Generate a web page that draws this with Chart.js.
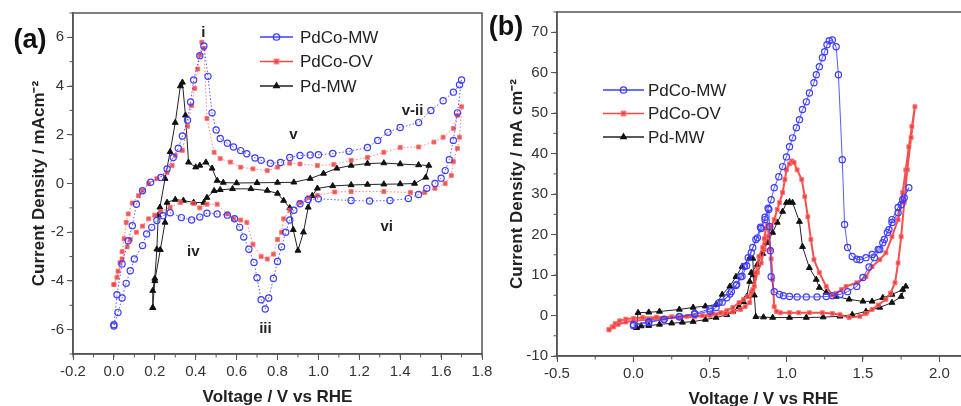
<!DOCTYPE html>
<html><head><meta charset="utf-8">
<script src="https://cdn.jsdelivr.net/npm/chart.js@4.4.0/dist/chart.umd.min.js"></script>
<style>
html,body{margin:0;padding:0;background:#fff;overflow:hidden;width:961px;height:406px;}
#ca{position:absolute;left:0;top:0;}
#cb{position:absolute;left:484px;top:0;}
</style></head><body>
<canvas id="ca" width="498" height="406"></canvas>
<canvas id="cb" width="500" height="406"></canvas>
<script>
// ---------- DATA (a): [voltage V vs RHE, current density mA cm^-2] ----------
const seriesNames = ['PdCo-MW', 'PdCo-OV', 'Pd-MW'];
const aPdCoMW = [[0.0,-5.8],[0.015,-4.57],[0.04,-3.3],[0.07,-2.35],[0.09,-1.73],[0.11,-0.85],[0.14,-0.3],[0.18,0.05],[0.23,0.25],[0.26,0.6],[0.29,1.07],[0.315,1.45],[0.335,1.95],[0.36,2.6],[0.375,3.35],[0.39,4.25],[0.42,5.25],[0.44,5.65],[0.46,4.4],[0.48,2.9],[0.50,2.2],[0.52,1.85],[0.555,1.65],[0.585,1.5],[0.62,1.35],[0.65,1.22],[0.69,1.05],[0.72,0.95],[0.765,0.83],[0.815,0.86],[0.86,1.07],[0.91,1.15],[0.96,1.17],[1.0,1.18],[1.07,1.23],[1.15,1.32],[1.24,1.48],[1.29,1.77],[1.34,2.1],[1.40,2.3],[1.49,2.5],[1.55,3.0],[1.61,3.4],[1.66,3.75],[1.69,4.05],[1.70,4.25],
 [1.68,2.9],[1.66,1.77],[1.64,0.98],[1.62,0.53],[1.60,0.22],[1.57,0.0],[1.53,-0.2],[1.49,-0.45],[1.44,-0.62],[1.35,-0.7],[1.25,-0.72],[1.16,-0.7],[1.0,-0.63],[0.95,-0.66],[0.91,-0.83],[0.88,-1.1],[0.86,-1.5],[0.84,-2.0],[0.82,-2.6],[0.80,-3.2],[0.78,-3.9],[0.757,-4.7],[0.74,-5.15],[0.72,-4.77],[0.70,-3.87],[0.685,-3.24],[0.66,-2.7],[0.635,-2.2],[0.615,-1.8],[0.59,-1.45],[0.555,-1.3],[0.505,-1.25],[0.455,-1.22],[0.42,-1.38],[0.38,-1.5],[0.33,-1.4],[0.275,-1.2],[0.24,-1.32],[0.21,-1.52],[0.185,-1.8],[0.16,-2.07],[0.14,-2.55],[0.10,-3.1],[0.08,-3.58],[0.06,-4.1],[0.04,-4.7],[0.02,-5.3],[0.0,-5.85]];
const aPdCoOV = [[0.0,-4.15],[0.02,-3.6],[0.03,-3.25],[0.04,-2.8],[0.05,-2.27],[0.06,-1.6],[0.07,-1.25],[0.09,-0.8],[0.12,-0.5],[0.14,-0.3],[0.17,0.0],[0.21,0.2],[0.26,0.45],[0.285,0.74],[0.30,1.15],[0.335,1.36],[0.36,2.35],[0.38,3.2],[0.395,3.9],[0.41,4.7],[0.42,5.27],[0.43,5.8],[0.44,5.55],[0.455,2.67],[0.49,1.28],[0.52,1.02],[0.57,0.88],[0.62,0.67],[0.68,0.6],[0.75,0.53],[0.80,0.67],[0.86,0.83],[0.91,0.8],[0.995,0.74],[1.075,0.78],[1.16,0.95],[1.24,1.07],[1.32,1.28],[1.40,1.48],[1.49,1.5],[1.565,1.7],[1.61,1.9],[1.66,2.26],[1.68,2.8],[1.70,3.15],
 [1.69,1.9],[1.68,1.44],[1.66,0.9],[1.65,0.33],[1.62,0.0],[1.57,-0.2],[1.52,-0.37],[1.45,-0.37],[1.32,-0.33],[1.16,-0.33],[1.08,-0.35],[0.995,-0.49],[0.95,-0.58],[0.91,-0.78],[0.86,-1.1],[0.83,-1.45],[0.82,-2.0],[0.80,-2.3],[0.78,-2.9],[0.75,-3.1],[0.72,-3.0],[0.68,-2.5],[0.65,-1.6],[0.62,-1.5],[0.585,-1.45],[0.555,-1.25],[0.505,-0.85],[0.455,-0.85],[0.42,-1.0],[0.39,-0.82],[0.325,-0.78],[0.275,-0.98],[0.23,-1.15],[0.20,-1.3],[0.17,-1.45],[0.14,-1.75],[0.11,-2.0],[0.08,-2.3],[0.065,-2.6],[0.04,-3.1],[0.015,-3.85],[0.0,-4.15]];
const aPdMW = [[0.19,-5.1],[0.19,-4.4],[0.20,-3.9],[0.21,-2.7],[0.217,-1.3],[0.225,-0.98],[0.25,0.2],[0.275,1.3],[0.30,2.5],[0.325,4.0],[0.335,4.15],[0.35,2.8],[0.365,0.87],[0.40,0.67],[0.42,0.74],[0.45,0.87],[0.48,0.62],[0.505,0.12],[0.535,0.04],[0.60,0.02],[0.70,0.03],[0.80,0.04],[0.88,0.05],[0.96,0.2],[1.025,0.41],[1.09,0.62],[1.16,0.74],[1.24,0.82],[1.32,0.84],[1.40,0.8],[1.49,0.76],[1.54,0.74],
 [1.525,0.25],[1.47,0.0],[1.40,-0.02],[1.32,-0.03],[1.24,-0.04],[1.16,-0.06],[1.07,-0.1],[0.995,-0.2],[0.97,-0.5],[0.95,-0.98],[0.927,-2.0],[0.90,-2.75],[0.877,-1.9],[0.86,-1.0],[0.83,-0.7],[0.80,-0.41],[0.75,-0.29],[0.67,-0.22],[0.58,-0.22],[0.52,-0.26],[0.49,-0.3],[0.455,-0.58],[0.44,-0.78],[0.39,-0.78],[0.34,-0.7],[0.30,-0.66],[0.26,-0.78],[0.25,-1.6],[0.227,-2.72],[0.20,-4.0],[0.19,-5.1]];

// ---------- DATA (b) ----------
const bPdCoMW = [[0,-2.2],[0.1,-1.5],[0.2,-0.9],[0.3,-0.3],[0.4,0.3],[0.5,1.1],[0.54,2.0],[0.58,3.3],[0.63,5.3],[0.67,7.4],[0.71,9.7],[0.74,12.3],[0.77,15.5],[0.80,18.8],[0.83,21.8],[0.86,24.3],[0.88,26.5],[0.90,28.6],[0.92,31.6],[0.95,34.3],[0.975,36.8],[1.0,39.2],[1.02,41.7],[1.04,43.9],[1.065,46.4],[1.085,48.4],[1.105,50.9],[1.13,52.8],[1.15,55],[1.18,57.5],[1.195,59.5],[1.215,61.5],[1.235,63.7],[1.25,65.2],[1.265,66.9],[1.28,67.9],[1.30,68.1],[1.325,66.4],[1.34,59.5],[1.365,38.5],[1.38,22.5],[1.40,16.8],[1.43,14.6],[1.46,13.9],[1.48,13.8],[1.52,14.3],[1.56,15.1],[1.60,16.3],[1.63,18],[1.66,20.5],[1.69,23],[1.73,25.4],[1.75,27.4],[1.77,29.1],[1.80,31.6],
 [1.76,28.6],[1.73,26.7],[1.69,23.7],[1.67,21.2],[1.64,18.8],[1.61,16.3],[1.575,14.3],[1.54,12.0],[1.50,9.4],[1.46,7.2],[1.40,5.9],[1.35,5.2],[1.30,4.9],[1.26,4.7],[1.20,4.6],[1.13,4.6],[1.07,4.6],[1.02,4.7],[0.98,4.9],[0.955,5.2],[0.92,5.9],[0.90,9.6],[0.895,16],[0.89,22],[0.885,26.2],[0.86,23.7],[0.835,21.5],[0.81,19.2],[0.78,16.8],[0.75,14.3],[0.725,12.1],[0.70,9.6],[0.675,7.7],[0.64,5.9],[0.61,4.4],[0.56,3.2],[0.5,1.6],[0.4,0.5],[0.3,-0.3],[0.2,-1.0],[0.1,-1.7],[0.0,-2.5]];
const bPdCoOV = [[-0.16,-3.5],[-0.14,-2.8],[-0.12,-2.0],[-0.09,-1.3],[-0.05,-0.9],[0.0,-0.7],[0.06,-0.5],[0.15,-0.4],[0.25,-0.3],[0.35,-0.2],[0.45,0.0],[0.52,0.4],[0.57,0.7],[0.61,1.2],[0.65,2.0],[0.69,3.2],[0.72,4.0],[0.745,4.7],[0.77,5.8],[0.79,7.2],[0.81,10.6],[0.835,13],[0.855,16.3],[0.875,19.5],[0.90,22],[0.92,23.7],[0.94,26.2],[0.955,27.9],[0.975,30.4],[0.99,33.6],[1.0,36],[1.02,37.5],[1.035,38.2],[1.05,37.8],[1.07,36],[1.10,33.6],[1.12,29.4],[1.14,24.4],[1.16,18.8],[1.18,13.8],[1.215,10.6],[1.26,7.2],[1.30,5.0],[1.325,5.5],[1.36,6.4],[1.39,7.2],[1.46,8.1],[1.52,9.6],[1.56,12.1],[1.61,13.8],[1.65,15.5],[1.69,19.5],[1.73,23.7],[1.76,30.4],[1.78,36],[1.80,41.7],[1.82,46.7],[1.84,51.6],
 [1.815,44],[1.79,36],[1.77,27.9],[1.75,19.5],[1.73,13],[1.71,8.1],[1.68,5.5],[1.65,4.0],[1.60,2.6],[1.56,1.5],[1.52,0.5],[1.48,-0.2],[1.41,-0.5],[1.35,0.2],[1.30,0.5],[1.235,0.7],[1.15,0.7],[1.08,0.7],[1.02,0.7],[0.96,0.7],[0.935,1.0],[0.92,2.2],[0.91,8.9],[0.90,14],[0.895,16.3],[0.885,19.5],[0.875,22.4],[0.865,21.5],[0.855,19],[0.845,16.8],[0.82,14.6],[0.80,10.6],[0.78,6.4],[0.76,3.2],[0.73,2.2],[0.70,1.5],[0.65,0.9],[0.60,0.5],[0.50,0.0],[0.40,-0.3],[0.30,-0.5],[0.20,-0.7],[0.10,-1.0],[0.0,-1.3],[-0.05,-1.6],[-0.10,-2.2],[-0.13,-2.8],[-0.16,-3.5]];
const bPdMW = [[0.02,-3.0],[0.05,-2.6],[0.10,-2.5],[0.17,-2.2],[0.25,-1.9],[0.32,-1.7],[0.39,-1.5],[0.47,-1.0],[0.54,-0.5],[0.61,0.2],[0.65,1.0],[0.69,2.2],[0.72,3.4],[0.74,4.7],[0.76,8.4],[0.77,10.6],[0.81,12.6],[0.845,15.3],[0.875,18],[0.91,20.5],[0.94,23],[0.975,25.7],[1.0,27.9],[1.02,28.1],[1.04,27.9],[1.085,23.2],[1.105,17],[1.15,11.8],[1.195,8.9],[1.215,6.9],[1.26,5.7],[1.325,4.7],[1.41,4.0],[1.50,3.5],[1.56,3.5],[1.63,4.4],[1.69,5.2],[1.76,6.4],[1.78,7.2],
 [1.75,4.7],[1.69,3.2],[1.61,2.0],[1.52,1.0],[1.43,0.2],[1.35,-0.2],[1.24,-0.4],[1.13,-0.5],[1.02,-0.5],[0.91,-0.5],[0.85,-0.4],[0.80,-0.3],[0.79,5],[0.785,10],[0.78,14.1],[0.76,14.3],[0.71,12.1],[0.67,9.6],[0.63,7.2],[0.58,5.2],[0.54,2.7],[0.47,2.3],[0.39,2.0],[0.30,1.5],[0.17,1.0],[0.10,0.8],[0.03,0.7],[0.02,-3.0]];

// ---------- TICKS & LABELS ----------
const aXTicks = [-0.2,0.0,0.2,0.4,0.6,0.8,1.0,1.2,1.4,1.6,1.8];
const aYTicks = [-6,-4,-2,0,2,4,6];
const bXTicks = [-0.5,0.0,0.5,1.0,1.5,2.0];
const bYTicks = [-10,0,10,20,30,40,50,60,70];
const aNotes = [['i',0.437,6.2],['v',0.878,1.98],['v-ii',1.46,3.0],['vi',1.334,-1.8],['iv',0.388,-2.8],['iii',0.741,-5.95]];
const xTitle = 'Voltage / V vs RHE';
const aYTitle = 'Current Density / mAcm\u207B\u00B2';
const bYTitle = 'Current Density / mA cm\u207B\u00B2';

const FONT = "'Liberation Sans', Arial, sans-serif";
const toXY = arr => arr.map(p => ({x: p[0], y: p[1]}));

const decor = {
  id: 'decor',
  afterDraw(chart, args, o) {
    const {ctx, chartArea: a, scales} = chart;
    const xs = scales.x, ys = scales.y;
    ctx.save();
    ctx.strokeStyle = '#555'; ctx.lineWidth = 1.5;
    ctx.strokeRect(a.left, a.top, a.right - a.left, a.bottom - a.top);
    // minor ticks
    ctx.lineWidth = 1;
    for (let v = xs.min; v <= xs.max + 1e-9; v += o.minorX) {
      const px = xs.getPixelForValue(v);
      ctx.beginPath(); ctx.moveTo(px, a.bottom); ctx.lineTo(px, a.bottom + 3.5); ctx.stroke();
    }
    for (let v = ys.min; v <= ys.max + 1e-9; v += o.minorY) {
      const py = ys.getPixelForValue(v);
      ctx.beginPath(); ctx.moveTo(a.left, py); ctx.lineTo(a.left - 3.5, py); ctx.stroke();
    }
    // legend
    const L = o.legend;
    chart.data.datasets.forEach((ds, i) => {
      const y = L.y + i * L.dy;
      ctx.strokeStyle = ds.legendLine; ctx.lineWidth = 1.3; ctx.setLineDash([]);
      ctx.beginPath(); ctx.moveTo(L.x, y); ctx.lineTo(L.x + L.len, y); ctx.stroke();
      ctx.fillStyle = ds.pointBackgroundColor; ctx.strokeStyle = ds.pointBorderColor;
      Chart.helpers.drawPoint(ctx, {pointStyle: ds.pointStyle, radius: L.r, rotation: 0, borderWidth: ds.pointBorderWidth}, L.x + L.len / 2, y);
      ctx.fillStyle = '#222'; ctx.font = L.font; ctx.textBaseline = 'middle'; ctx.textAlign = 'left';
      ctx.fillText(ds.label, L.x + L.len + L.gap, y + 1);
    });
    // notes
    if (o.notes) {
      ctx.fillStyle = '#222'; ctx.font = 'bold 15px ' + FONT; ctx.textAlign = 'center'; ctx.textBaseline = 'middle';
      o.notes.forEach(n => ctx.fillText(n[0], xs.getPixelForValue(n[1]), ys.getPixelForValue(n[2])));
    }
    // panel label
    ctx.fillStyle = '#111'; ctx.font = 'bold 27px ' + FONT; ctx.textAlign = 'center'; ctx.textBaseline = 'middle';
    ctx.fillText(o.panel[0], o.panel[1], o.panel[2]);
    ctx.restore();
  }
};

function styles(kind, panel) {
  if (kind === 0) return {borderColor: 'rgba(60,60,255,0.85)', borderWidth: 1, borderDash: panel === 'a' ? [1.5, 2] : [],
    pointStyle: 'circle', pointRadius: 3.1, pointBorderWidth: 1.2, pointBackgroundColor: 'rgba(255,255,255,0)', pointBorderColor: '#3d3dff', legendLine: '#3d3dff'};
  if (kind === 1) return {borderColor: panel === 'a' ? 'rgba(255,90,90,0.75)' : 'rgba(245,60,60,0.9)', borderWidth: panel === 'a' ? 1 : 2, borderDash: panel === 'a' ? [1.5, 2] : [],
    pointStyle: 'rect', pointRadius: 2.8, pointBorderWidth: 1, pointBackgroundColor: 'rgba(240,60,60,0.85)', pointBorderColor: 'rgba(255,110,110,0.8)', legendLine: '#f04848'};
  return {borderColor: '#222', borderWidth: 1, borderDash: [],
    pointStyle: 'triangle', pointRadius: 3.4, pointBorderWidth: 1, pointBackgroundColor: '#111', pointBorderColor: '#111', legendLine: '#222'};
}

function axis(min, max, ticks, title, horiz, size, tpad) {
  return {
    type: 'linear', min, max,
    afterFit: s => { if (horiz) s.height = size; else s.width = size; },
    afterBuildTicks: s => { s.ticks = ticks.map(v => ({value: v})); },
    grid: {drawOnChartArea: false, drawTicks: true, tickLength: 6, color: '#555', tickColor: '#555'},
    border: {display: true, color: '#555', width: 1.5},
    ticks: {color: '#333', font: {family: FONT, size: 15}, padding: 3, maxRotation: 0, autoSkip: false,
      callback: v => horiz ? v.toFixed(1) : String(v)},
    title: {display: true, text: title, color: '#222', font: {family: FONT, size: 17, weight: 'bold'}, padding: tpad}
  };
}

function makeChart(id, sets, panel, opts) {
  return new Chart(document.getElementById(id), {
    type: 'scatter',
    data: {datasets: sets.map((d, i) => Object.assign({label: seriesNames[i], data: toXY(d), showLine: true, tension: 0, clip: false}, styles(i, panel)))},
    options: {
      responsive: false, animation: false, devicePixelRatio: 1,
      layout: {padding: opts.padding},
      plugins: {legend: {display: false}, tooltip: {enabled: false}, decor: opts.decor},
      scales: opts.scales
    },
    plugins: [decor]
  });
}

makeChart('ca', [aPdCoMW, aPdCoOV, aPdMW], 'a', {
  padding: {top: 13, right: 16, bottom: 0, left: 0},
  scales: {x: axis(-0.2, 1.8, aXTicks, xTitle, true, 52, {top: 0, bottom: -2}), y: axis(-7, 7, aYTicks, aYTitle, false, 73, {top: 29, bottom: 0})},
  decor: {minorX: 0.1, minorY: 1, notes: aNotes, panel: ['(a)', 30, 41],
    legend: {x: 260, y: 37, dy: 24.5, len: 33, gap: 7, r: 3.2, font: '17px ' + FONT}}
});
makeChart('cb', [bPdCoMW, bPdCoOV, bPdMW], 'b', {
  padding: {top: 11, right: 14, bottom: 0, left: 0},
  scales: {x: axis(-0.5, 2.2, bXTicks, xTitle, true, 50, {top: 0, bottom: -4}), y: axis(-10, 75, bYTicks, bYTitle, false, 73, {top: 23, bottom: 0})},
  decor: {minorX: 0.25, minorY: 5, notes: null, panel: ['(b)', 22, 28],
    legend: {x: 119, y: 90, dy: 23.5, len: 41, gap: 4, r: 3.2, font: '17px ' + FONT}}
});
</script>
</body></html>
